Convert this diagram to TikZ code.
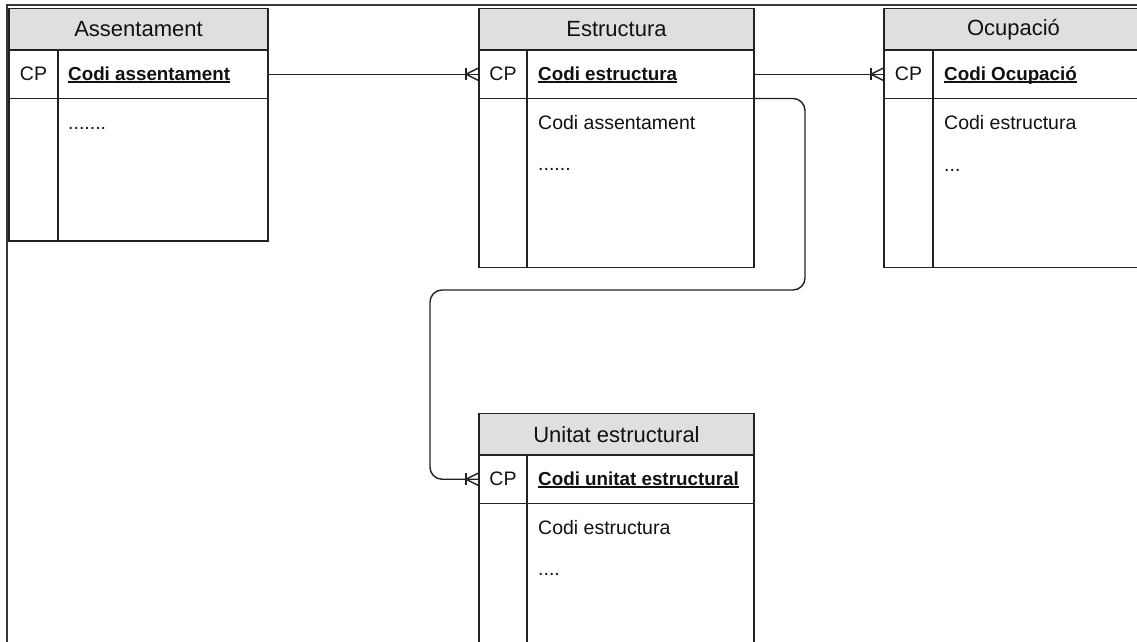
\documentclass[tikz,border=0pt]{standalone}
\usepackage{fontspec}
\setmainfont{Liberation Sans}
\usetikzlibrary{calc}
\definecolor{linec}{HTML}{222222}
\definecolor{hdrfill}{HTML}{DFDFDF}
\definecolor{txtc}{HTML}{111111}
\newsavebox\keybox
\newcommand\keytext[1]{\sbox\keybox{\fontsize{18.8}{22}\selectfont\bfseries #1}\rlap{\usebox\keybox}\rule[-2.6pt]{\wd\keybox}{1.3pt}}
\newcommand\crowfoot[1]{%
  \draw[conn] ($(#1)+(-13,-6)$) -- ($(#1)+(-13,6)$);
  \draw[conn] ($(#1)+(-1,-6)$) -- ($(#1)+(-13,0)$) -- ($(#1)+(-1,6)$);}
\begin{document}
\begin{tikzpicture}[x=1pt,y=-1pt,
  tbl/.style={draw=linec, line width=1.3pt, inner sep=0pt, outer sep=0pt, anchor=north west},
  hdr/.style={tbl, fill=hdrfill, text=txtc, font=\fontsize{22}{26}\selectfont, minimum height=41.5pt},
  keyrow/.style={tbl, minimum height=48.5pt},
  divline/.style={draw=linec, line width=1.3pt},
  cptext/.style={anchor=base, inner sep=0pt, text=txtc, font=\fontsize{19.5}{23}\selectfont},
  attr/.style={anchor=base west, inner sep=0pt, text=txtc, font=\fontsize{19.5}{23}\selectfont},
  conn/.style={draw=linec, line width=1.4pt},
  frame/.style={draw=linec!90, line width=2pt}]
\useasboundingbox (0,0) rectangle (1137,642);
\clip (0,0) rectangle (1137,642);
\draw[frame] (7,650) -- (7,5.5) -- (1140,5.5);

% Assentament
\node[hdr, minimum width=259pt] (asH) at (9,8.5) {Assentament};
\node[keyrow, minimum width=259pt] (asK) at (9,50) {};
\node[tbl, minimum width=259pt, minimum height=142.5pt] (asB) at (9,98.5) {};
\draw[divline] (58,50) -- (58,241);
\node[cptext] (asCP) at (33.5,80) {CP};
\node[attr] (asKT) at (68,80) {\keytext{Codi assentament}};
\node[attr] (asA1) at (68,129) {.......};

% Estructura
\node[hdr, minimum width=275pt] (esH) at (479,8.5) {Estructura};
\node[keyrow, minimum width=275pt] (esK) at (479,50) {};
\node[tbl, minimum width=275pt, minimum height=169pt] (esB) at (479,98.5) {};
\draw[divline] (527,50) -- (527,267.5);
\node[cptext] (esCP) at (503,80) {CP};
\node[attr] (esKT) at (538,80) {\keytext{Codi estructura}};
\node[attr] (esA1) at (538,129) {Codi assentament};
\node[attr] (esA2) at (538,170) {......};

% Ocupacio
\node[hdr, minimum width=259pt] (ocH) at (884,8.5) {Ocupació};
\node[keyrow, minimum width=259pt] (ocK) at (884,50) {};
\node[tbl, minimum width=259pt, minimum height=169pt] (ocB) at (884,98.5) {};
\draw[divline] (933,50) -- (933,267.5);
\node[cptext] (ocCP) at (908.5,80) {CP};
\node[attr] (ocKT) at (944,80) {\keytext{Codi Ocupació}};
\node[attr] (ocA1) at (944,129) {Codi estructura};
\node[attr] (ocA2) at (944,171) {...};

% Unitat estructural
\node[hdr, minimum width=275pt] (ueH) at (479,413.5) {Unitat estructural};
\node[keyrow, minimum width=275pt] (ueK) at (479,455) {};
\node[tbl, minimum width=275pt, minimum height=200pt] (ueB) at (479,503.5) {};
\draw[divline] (527,455) -- (527,700);
\node[cptext] (ueCP) at (503,485) {CP};
\node[attr] (ueKT) at (538,485) {\keytext{Codi unitat estructural}};
\node[attr] (ueA1) at (538,534) {Codi estructura};
\node[attr] (ueA2) at (538,575) {....};

% connectors
\draw[conn] (asK.east) -- (esK.west);
\crowfoot{esK.west}
\draw[conn] (esK.east) -- (ocK.west);
\crowfoot{ocK.west}
\coordinate (r1) at (805,290);
\coordinate (r2) at (430,290);
\draw[conn, rounded corners=12pt] (esB.north east) -| (r1) -- (r2) |- (ueK.west);
\crowfoot{ueK.west}
\end{tikzpicture}
\end{document}
